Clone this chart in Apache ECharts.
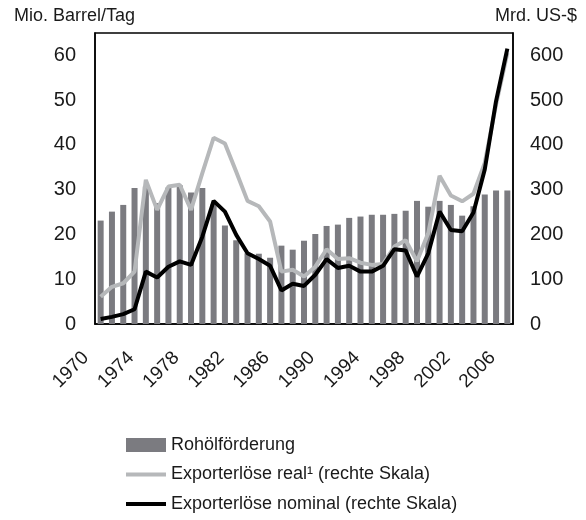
<!DOCTYPE html>
<html>
<head>
<meta charset="utf-8">
<script src="https://cdn.jsdelivr.net/npm/echarts@6/dist/echarts.min.js"></script>
<style>
    html, body { margin: 0; padding: 0; background: #fff; }
    #chart { width: 586px; height: 520px; }
</style>
</head>
<body>
<div id="chart"></div>
<script>
    // Jahre 1970 - 2006
    const years = [];
    for (let y = 1970; y <= 2006; y++) years.push(String(y));

    // Rohölförderung, Mio. Barrel/Tag
    const foerderung = [23.1, 25.1, 26.6, 30.4, 30.7, 27.0, 30.5, 31.0, 29.4, 30.4,
        26.8, 22.0, 18.7, 15.8, 15.7, 14.8, 17.5, 16.6, 18.6, 20.1,
        21.9, 22.2, 23.7, 24.0, 24.4, 24.4, 24.6, 25.3, 27.5, 26.2,
        27.5, 26.6, 24.2, 26.3, 28.9, 29.8, 29.8];

    // Exporterlöse real, Mrd. US-$
    const erloeseReal = [61, 83, 91, 117, 322, 255, 307, 311, 255, 337,
        416, 403, 340, 275, 263, 229, 117, 121, 106, 128,
        167, 145, 147, 137, 132, 134, 173, 187, 140, 203,
        331, 287, 274, 291, 360, 490, 605];

    // Exporterlöse nominal, Mrd. US-$
    const erloeseNominal = [11, 16, 22, 33, 117, 104, 128, 140, 132, 195,
        275, 251, 199, 158, 145, 130, 75, 90, 85, 110,
        145, 125, 130, 117, 117, 130, 167, 164, 106, 158,
        251, 210, 207, 249, 345, 498, 615];

    const font = 'Liberation Sans, Arial, sans-serif';
    const textColor = '#1a1a1a';
    const grau = '#b6b8ba';
    // flacher Strich als Legendensymbol fuer die Linien
    const strich = 'path://M0,0 M40,14 M0,5 L40,5 L40,9 L0,9 Z';

    const chart = echarts.init(document.getElementById('chart'));

    const option = {
        animation: false,
        textStyle: { fontFamily: font },
        graphic: [
            { type: 'text', left: 14, top: 7, style: { text: 'Mio. Barrel/Tag', fontSize: 18, fontFamily: font, fill: textColor } },
            { type: 'text', right: 9, top: 7, style: { text: 'Mrd. US-$', fontSize: 18, fontFamily: font, fill: textColor } }
        ],
        grid: {
            left: 95,
            right: 73,
            top: 33,
            bottom: 196,
            show: true,
            borderColor: '#000',
            borderWidth: 1.5
        },
        legend: {
            orient: 'vertical',
            left: 126,
            top: 436,
            padding: 0,
            itemWidth: 40,
            itemHeight: 14,
            itemGap: 11.5,
            textStyle: { fontSize: 18, lineHeight: 18, color: textColor, fontFamily: font },
            data: [
                { name: 'Rohölförderung', icon: 'rect' },
                { name: 'Exporterlöse real¹ (rechte Skala)', icon: strich },
                { name: 'Exporterlöse nominal (rechte Skala)', icon: strich }
            ]
        },
        xAxis: {
            type: 'category',
            data: years,
            boundaryGap: true,
            axisLine: { lineStyle: { color: '#000', width: 1.5 } },
            axisTick: { interval: 3, length: 6, lineStyle: { color: '#000' } },
            axisLabel: {
                interval: 3,
                rotate: 45,
                fontSize: 19,
                color: textColor,
                margin: 16,
                padding: [0, 21, 0, 0]
            }
        },
        yAxis: [{
            type: 'value',
            min: 0,
            max: 65,
            interval: 10,
            axisLine: { show: true, lineStyle: { color: '#000', width: 1.5 } },
            axisTick: { show: false },
            splitLine: { show: false },
            axisLabel: {
                fontSize: 20,
                color: textColor,
                margin: 19,
                showMaxLabel: false
            }
        }, {
            type: 'value',
            min: 0,
            max: 650,
            interval: 100,
            position: 'right',
            axisLine: { show: true, lineStyle: { color: '#000', width: 1.5 } },
            axisTick: { show: false },
            splitLine: { show: false },
            axisLabel: {
                fontSize: 20,
                color: textColor,
                margin: 17,
                showMaxLabel: false
            }
        }],
        series: [{
            name: 'Rohölförderung',
            type: 'bar',
            data: foerderung,
            barWidth: 6,
            itemStyle: { color: '#7b7b80' }
        }, {
            name: 'Exporterlöse real¹ (rechte Skala)',
            type: 'line',
            yAxisIndex: 1,
            data: erloeseReal,
            symbol: 'none',
            lineStyle: { color: grau, width: 4 },
            itemStyle: { color: grau }
        }, {
            name: 'Exporterlöse nominal (rechte Skala)',
            type: 'line',
            yAxisIndex: 1,
            data: erloeseNominal,
            symbol: 'none',
            lineStyle: { color: '#000', width: 4 },
            itemStyle: { color: '#000' }
        }]
    };

    chart.setOption(option);
</script>
</body>
</html>
